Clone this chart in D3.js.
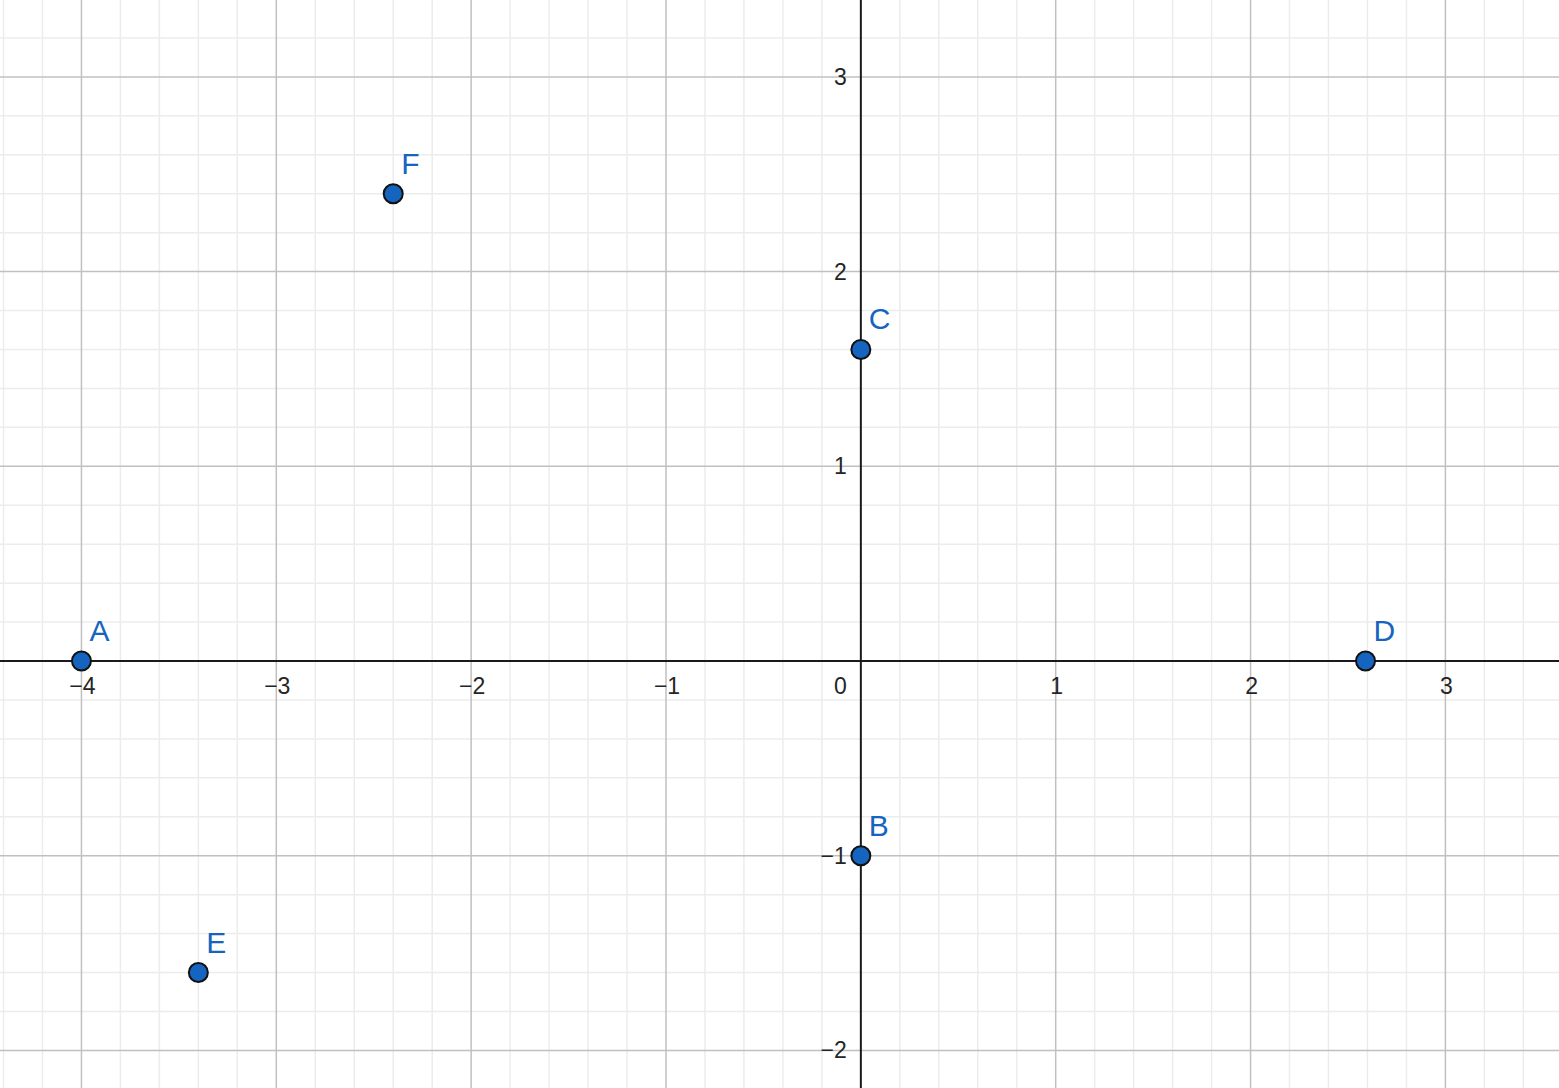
<!DOCTYPE html>
<html>
<head>
<meta charset="utf-8">
<script src="https://cdn.jsdelivr.net/npm/d3@7"></script>
<style>
html,body{margin:0;padding:0;background:#fff;overflow:hidden;}
svg{display:block;}
</style>
</head>
<body>
<svg id="chart" width="1559" height="1088"></svg>
<script>
// Data
const pointNames = ["A", "B", "C", "D", "E", "F"];
const pointX = [-4, 0, 0, 2.59, -3.4, -2.4];
const pointY = [0, -1, 1.6, 0, -1.6, 2.4];
const xTicks = [-4, -3, -2, -1, 1, 2, 3];
const yTicks = [-2, -1, 1, 2, 3];

const W = 1559, H = 1088;
const svg = d3.select("#chart");

const x = d3.scaleLinear().domain([-4.418, 3.583]).range([0, W]);
const y = d3.scaleLinear().domain([-2.193, 3.395]).range([H, 0]);

const xMin = Math.ceil(x.domain()[0] * 5), xMax = Math.floor(x.domain()[1] * 5);
const yMin = Math.ceil(y.domain()[0] * 5), yMax = Math.floor(y.domain()[1] * 5);
const minorX = d3.range(xMin, xMax + 1).filter(i => i % 5 !== 0).map(i => i / 5);
const minorY = d3.range(yMin, yMax + 1).filter(i => i % 5 !== 0).map(i => i / 5);
const majorX = d3.range(Math.ceil(x.domain()[0]), Math.floor(x.domain()[1]) + 1).filter(v => v !== 0);
const majorY = d3.range(Math.ceil(y.domain()[0]), Math.floor(y.domain()[1]) + 1).filter(v => v !== 0);

const g = svg.append("g");
// minor grid
g.selectAll(".mx").data(minorX).join("line")
  .attr("x1", d => x(d)).attr("x2", d => x(d)).attr("y1", 0).attr("y2", H)
  .attr("stroke", "#ececec").attr("stroke-width", 1.5);
g.selectAll(".my").data(minorY).join("line")
  .attr("y1", d => y(d)).attr("y2", d => y(d)).attr("x1", 0).attr("x2", W)
  .attr("stroke", "#ececec").attr("stroke-width", 1.5);
// major grid
g.selectAll(".Mx").data(majorX).join("line")
  .attr("x1", d => x(d)).attr("x2", d => x(d)).attr("y1", 0).attr("y2", H)
  .attr("stroke", "#c0c0c0").attr("stroke-width", 1.5);
g.selectAll(".My").data(majorY).join("line")
  .attr("y1", d => y(d)).attr("y2", d => y(d)).attr("x1", 0).attr("x2", W)
  .attr("stroke", "#c0c0c0").attr("stroke-width", 1.5);

// axes
svg.append("line").attr("x1", 0).attr("x2", W).attr("y1", y(0)).attr("y2", y(0))
  .attr("stroke", "#1a1a1a").attr("stroke-width", 2);
svg.append("line").attr("y1", 0).attr("y2", H).attr("x1", x(0)).attr("x2", x(0))
  .attr("stroke", "#1a1a1a").attr("stroke-width", 2);

const fmt = v => (v < 0 ? "\u2212" + Math.abs(v) : String(v));
const font = "'Liberation Sans', Arial, sans-serif";

// x tick labels
svg.selectAll(".xt").data(xTicks).join("text")
  .attr("x", d => x(d) + 1).attr("y", y(0) + 33)
  .attr("text-anchor", "middle")
  .attr("font-family", font).attr("font-size", 23).attr("fill", "#252525")
  .text(fmt);
// y tick labels
svg.selectAll(".yt").data(yTicks).join("text")
  .attr("x", x(0) - 14).attr("y", d => y(d) + 8)
  .attr("text-anchor", "end")
  .attr("font-family", font).attr("font-size", 23).attr("fill", "#252525")
  .text(fmt);
// origin
svg.append("text").attr("x", x(0) - 14).attr("y", y(0) + 33)
  .attr("text-anchor", "end")
  .attr("font-family", font).attr("font-size", 23).attr("fill", "#252525")
  .text("0");

// points
const pts = pointNames.map((n, i) => ({ name: n, x: pointX[i], y: pointY[i] }));
svg.selectAll(".pt").data(pts).join("circle")
  .attr("cx", d => x(d.x)).attr("cy", d => y(d.y)).attr("r", 9.5)
  .attr("fill", "#1565c0").attr("stroke", "#111").attr("stroke-width", 2);
svg.selectAll(".pl").data(pts).join("text")
  .attr("x", d => x(d.x) + 8).attr("y", d => y(d.y) - 20)
  .attr("font-family", font).attr("font-size", 30).attr("fill", "#1565c0")
  .text(d => d.name);
</script>
</body>
</html>
